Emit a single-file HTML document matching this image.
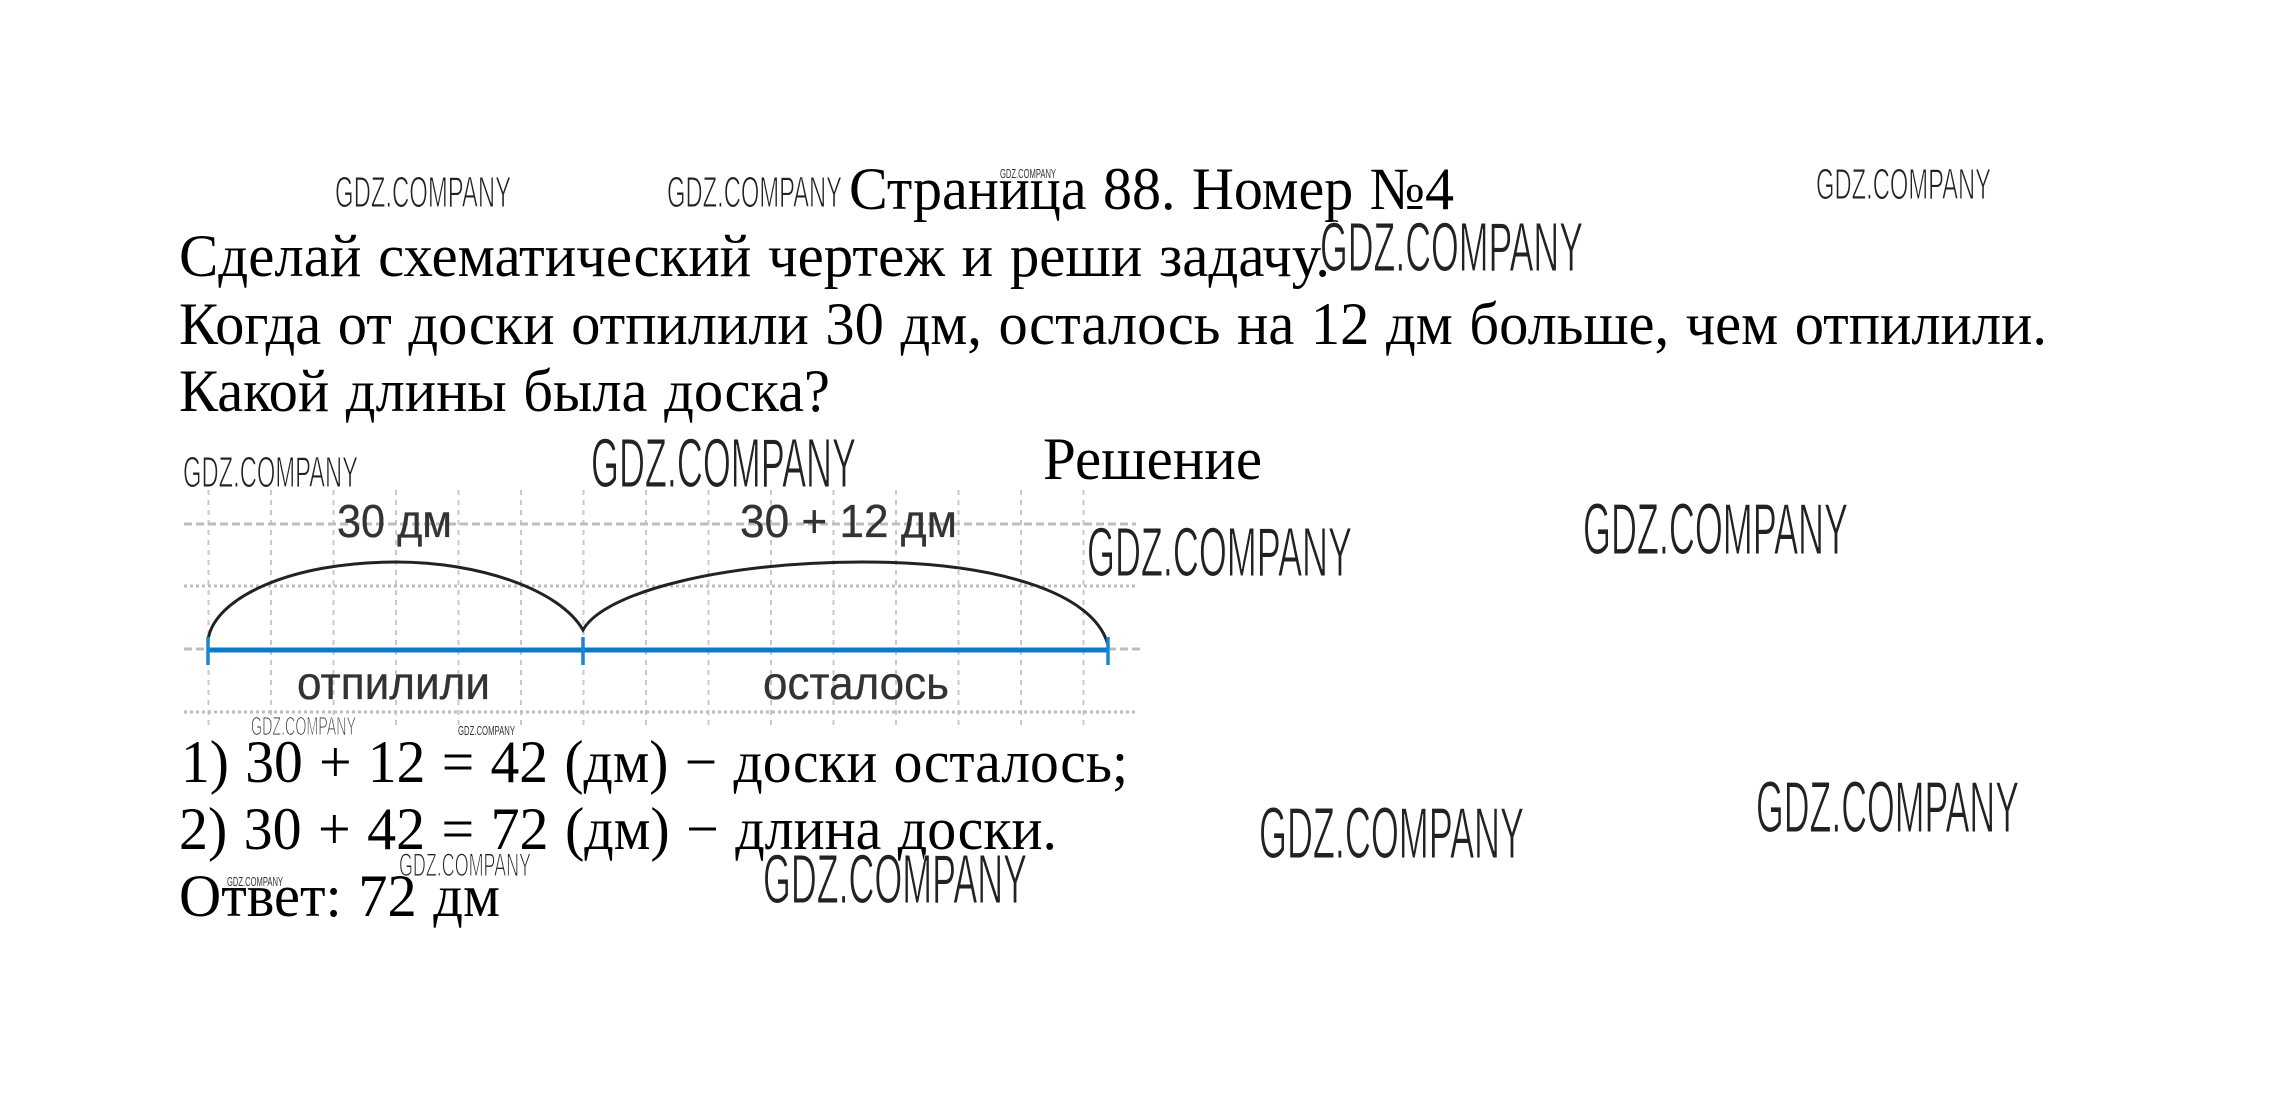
<!DOCTYPE html>
<html><head><meta charset="utf-8"><style>
html,body{margin:0;padding:0;background:#fff;width:2270px;height:1104px;overflow:hidden}
svg{display:block}
.t{font-family:"Liberation Serif",serif;font-size:60px;fill:#000;word-spacing:2px}
.d{font-family:"Liberation Sans",sans-serif;fill:#333;stroke:#333;stroke-width:.3px}
.w{font-family:"Liberation Sans",sans-serif;fill:#222;stroke:#fff;stroke-width:1.100px;paint-order:fill stroke}
.s{font-family:"Liberation Sans",sans-serif;fill:#333}
</style></head><body>
<svg width="2270" height="1104" viewBox="0 0 2270 1104" xmlns="http://www.w3.org/2000/svg">
<rect width="2270" height="1104" fill="#fff"/>
<g stroke="#c8c8c8" stroke-width="2" stroke-dasharray="5 5" fill="none">
<path d="M208.500 490V730M271 490V730M333.500 490V730M396 490V730M458.500 490V730M521 490V730M583.500 490V730M646 490V730M708.500 490V730M771 490V730M833.500 490V730M896 490V730M958.500 490V730M1021 490V730M1083.500 490V730"/>
</g>
<g fill="none" stroke="#bdbdbd">
<path d="M184 524H1136" stroke-width="3" stroke-dasharray="8 4"/>
<path d="M184 649H1140" stroke-width="3" stroke-dasharray="8 4"/>
<path d="M184 586H1136" stroke-width="3" stroke-dasharray="3 3"/>
<path d="M184 712H1136" stroke-width="3" stroke-dasharray="3 3"/>
</g>
<path d="M208 640C214 598 290 562 396 562C480 562 560 590 583 630C604 592 724 562 862 562C996 562 1094 592 1108 645" fill="none" stroke="#222" stroke-width="3"/>
<path d="M208 650H1108" stroke="#0b7ac8" stroke-width="5" fill="none"/>
<path d="M208 637V665M583 637V665M1108 637V665" stroke="#1a86d0" stroke-width="3.500" fill="none"/>

<text class="d" font-size="46" x="337" y="537" textLength="115" lengthAdjust="spacingAndGlyphs">30 дм</text>
<text class="d" font-size="46" x="740" y="537" textLength="217" lengthAdjust="spacingAndGlyphs">30 + 12 дм</text>
<text class="d" font-size="46" x="297" y="699" textLength="193" lengthAdjust="spacingAndGlyphs">отпилили</text>
<text class="d" font-size="46" x="763" y="699" textLength="186" lengthAdjust="spacingAndGlyphs">осталось</text>

<text class="t" x="849" y="209" textLength="605" lengthAdjust="spacingAndGlyphs">Страница 88. Номер №4</text>
<text class="t" x="179" y="276" textLength="1151" lengthAdjust="spacingAndGlyphs">Сделай схематический чертеж и реши задачу.</text>
<text class="t" x="179" y="344" textLength="1868" lengthAdjust="spacingAndGlyphs">Когда от доски отпилили 30 дм, осталось на 12 дм больше, чем отпилили.</text>
<text class="t" x="179" y="411" textLength="651" lengthAdjust="spacingAndGlyphs">Какой длины была доска?</text>
<text class="t" x="1043" y="479" textLength="219" lengthAdjust="spacingAndGlyphs">Решение</text>
<text class="t" x="181" y="782" textLength="947" lengthAdjust="spacingAndGlyphs">1) 30 + 12 = 42 (дм) − доски осталось;</text>
<text class="t" x="179" y="849" textLength="878" lengthAdjust="spacingAndGlyphs">2) 30 + 42 = 72 (дм) − длина доски.</text>
<text class="t" x="179" y="916" textLength="321" lengthAdjust="spacingAndGlyphs">Ответ: 72 дм</text>

<text class="w" x="335" y="207" font-size="44" textLength="176" lengthAdjust="spacingAndGlyphs">GDZ.COMPANY</text>
<text class="w" x="667" y="207" font-size="44" textLength="175" lengthAdjust="spacingAndGlyphs">GDZ.COMPANY</text>
<text class="s" x="1000" y="178" font-size="13" textLength="56" lengthAdjust="spacingAndGlyphs">GDZ.COMPANY</text>
<text class="w" x="1816" y="199" font-size="44" textLength="175" lengthAdjust="spacingAndGlyphs">GDZ.COMPANY</text>
<text class="w" x="1320" y="271" font-size="70" textLength="263" lengthAdjust="spacingAndGlyphs">GDZ.COMPANY</text>
<text class="w" x="183" y="487" font-size="44" textLength="175" lengthAdjust="spacingAndGlyphs">GDZ.COMPANY</text>
<text class="w" x="591" y="487" font-size="70" textLength="265" lengthAdjust="spacingAndGlyphs">GDZ.COMPANY</text>
<text class="w" x="1087" y="576" font-size="70" textLength="265" lengthAdjust="spacingAndGlyphs">GDZ.COMPANY</text>
<text class="w" x="1583" y="554" font-size="72" textLength="265" lengthAdjust="spacingAndGlyphs">GDZ.COMPANY</text>
<text class="w" x="1259" y="858" font-size="72" textLength="265" lengthAdjust="spacingAndGlyphs">GDZ.COMPANY</text>
<text class="w" x="1756" y="832" font-size="72" textLength="263" lengthAdjust="spacingAndGlyphs">GDZ.COMPANY</text>
<text class="w" x="763" y="903" font-size="70" textLength="264" lengthAdjust="spacingAndGlyphs">GDZ.COMPANY</text>
<text class="w" x="399" y="876" font-size="32" textLength="132" lengthAdjust="spacingAndGlyphs">GDZ.COMPANY</text>
<text class="s" x="227" y="886" font-size="13" textLength="56" lengthAdjust="spacingAndGlyphs">GDZ.COMPANY</text>
<text class="w" x="251" y="735" font-size="26" textLength="105" lengthAdjust="spacingAndGlyphs">GDZ.COMPANY</text>
<text class="s" x="458" y="735" font-size="13" textLength="57" lengthAdjust="spacingAndGlyphs">GDZ.COMPANY</text>
</svg>
</body></html>
